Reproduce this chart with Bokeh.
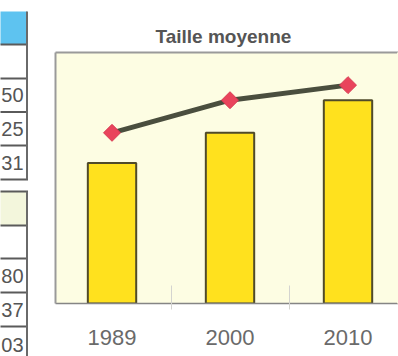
import math

from bokeh.core.properties import value
from bokeh.embed import file_html
from bokeh.layouts import row
from bokeh.models import BoxAnnotation, FixedTicker, LinearAxis, Range1d
from bokeh.plotting import figure
from bokeh.resources import INLINE

# Chart data
years = ["1989", "2000", "2010"]
bar_values = [56, 68, 81]
line_values = [68, 81, 87]

# Visible right-hand column of the two neighbouring tables
table_top_values = ["50", "25", "31"]
table_bottom_values = ["80", "37", "03"]

# Row boundaries of the two tables (pixels from the top of the page)
top_rows = [11, 44, 78, 111.5, 145, 179]
bottom_rows = [191, 225, 258, 292, 326, 362]

GRID = "#5a5a5a"
FONT = value("Liberation Sans")
PANEL = "#fdfde3"

# ---------------------------------------------------------------- tables
t = figure(width=28, height=356, x_range=Range1d(0, 28), y_range=Range1d(356, 0),
           output_backend="svg", toolbar_location=None, min_border=0,
           x_axis_location=None, y_axis_location=None,
           outline_line_color=None, background_fill_color="white",
           border_fill_color="white")
t.grid.visible = False
t.frame_align = False

# header cells
t.quad(left=-5, right=26.5, top=[top_rows[0]], bottom=[top_rows[1]],
       fill_color="#5ec3f0", line_color=None)
t.quad(left=-5, right=26.5, top=[bottom_rows[0]], bottom=[bottom_rows[1]],
       fill_color="#f3f6dc", line_color=None)

for rows_, lines_ in ((top_rows, top_rows[1:]), (bottom_rows, bottom_rows[:-1])):
    t.segment(x0=[-5] * len(lines_), x1=[27.5] * len(lines_), y0=lines_, y1=lines_,
              line_color=GRID, line_width=2)
    t.segment(x0=[26.5], x1=[26.5], y0=[rows_[0]], y1=[rows_[-1]],
              line_color="#6a6a6a", line_width=2)


def mids(b):
    return [(b[i] + b[i + 1]) / 2 for i in range(len(b) - 1)]


for rows_, vals in ((top_rows, table_top_values), (bottom_rows, table_bottom_values)):
    t.text(x=[23] * len(vals), y=mids(rows_)[2:], text=vals,
           text_align="right", text_baseline="middle", text_font=FONT,
           text_font_size="20px", text_color="#555555")

# ---------------------------------------------------------------- chart
xs = list(range(len(years)))

p = figure(width=370, height=356, x_range=Range1d(-0.479, 2.428),
           y_range=Range1d(0, 100), output_backend="svg", toolbar_location=None,
           x_axis_location=None, y_axis_location=None,
           min_border_left=27, min_border_right=0, min_border_top=52,
           min_border_bottom=53, background_fill_color=None,
           border_fill_color="white", title="Taille moyenne")
p.outline_line_color = None
p.outline_line_alpha = 0
p.grid.visible = False
p.frame_align = False

# pale panel behind the bars
p.add_layout(BoxAnnotation(fill_color=PANEL, fill_alpha=1, line_color=None,
                           level="underlay"))

p.title.align = "left"
p.title.text_font = "Liberation Sans"
p.title.text_font_size = "19px"
p.title.text_font_style = "bold"
p.title.text_color = "#555555"
p.title.offset = 100
p.title.standoff = 12


def border_axis(color="#9a9a9a", width=2):
    # bare axis line used as a frame edge
    return LinearAxis(ticker=FixedTicker(ticks=[]), axis_line_color=color,
                      axis_line_width=width, major_tick_line_color=None,
                      minor_tick_line_color=None, major_label_text_font_size="0px")


p.add_layout(border_axis(), "left")
p.add_layout(border_axis(), "above")
# the panel runs open on the right-hand side
p.add_layout(border_axis(PANEL, 3), "right")

xax = LinearAxis(ticker=FixedTicker(ticks=xs, minor_ticks=[i + 0.5 for i in xs[:-1]]))
xax.major_label_overrides = {i: y for i, y in zip(xs, years)}
xax.axis_line_color = "#858585"
xax.axis_line_width = 1.5
xax.major_tick_line_color = None
xax.minor_tick_in = 18
xax.minor_tick_out = 6
xax.minor_tick_line_color = "#d4d4d0"
xax.major_label_text_font = "Liberation Sans"
xax.major_label_text_font_size = "22px"
xax.major_label_text_color = "#6a6a6a"
xax.major_label_standoff = 20
p.add_layout(xax, "below")

p.vbar(x=xs, top=bar_values, bottom=0, width=0.41, fill_color="#ffe11e",
       line_color="#4f4a2a", line_width=2)
p.line(xs, line_values, line_width=5, line_color="#4a4e3e")
p.scatter(xs, line_values, marker="square", angle=math.pi / 4, size=12,
          fill_color="#e9445c", line_color="#d83a52", line_width=1)

layout = row(t, p)

with open("out.html", "w") as f:
    f.write(file_html(layout, INLINE))
